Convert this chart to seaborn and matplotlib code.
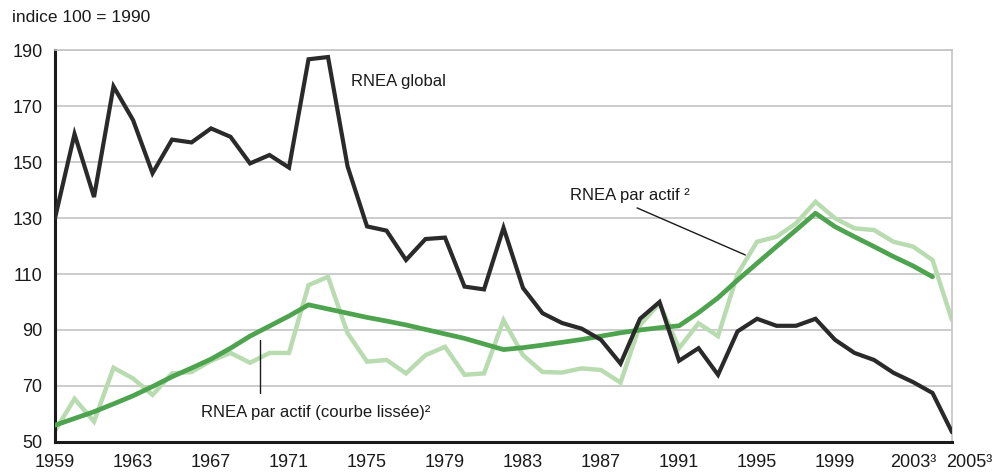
import numpy as np
import pandas as pd
import matplotlib
matplotlib.use("Agg")
import matplotlib.pyplot as plt
import matplotlib.transforms as mtransforms
import seaborn as sns

years = list(range(1959, 2006))

# RNEA global (index 100 = 1990)
rnea_global = [130, 160, 137.5, 177, 165, 146, 158, 157, 162, 159,
               149.5, 152.5, 148, 186.7, 187.5, 148.5, 127, 125.5, 115, 122.5,
               123, 105.5, 104.5, 126.5, 105, 96, 92.5, 90.5, 86.5, 78,
               94, 100, 79, 83.5, 74, 89.5, 94, 91.5, 91.5, 94,
               86.5, 81.8, 79.3, 74.7, 71.4, 67.5, 53.5]

# RNEA par actif (raw)
rnea_actif = [54, 65.4, 57.3, 76.5, 72.7, 66.8, 74.5, 75, 79, 81.8,
              78.3, 81.8, 81.8, 106, 109, 88.9, 78.7, 79.3, 74.5, 81,
              84, 74, 74.5, 93.5, 81, 75, 74.8, 76.3, 75.7, 71.2,
              91.8, 99.5, 83.5, 92.4, 87.8, 110, 121.5, 123.3, 128.1, 135.8,
              129.9, 126.3, 125.7, 121.5, 119.8, 115, 93.5]

# RNEA par actif, smoothed curve (ends in 2004)
smooth_years = list(range(1959, 2005))
rnea_lisse = [56, 58.4, 60.8, 63.6, 66.5, 69.8, 73.3, 76.4, 79.6, 83.5,
              87.8, 91.4, 95, 99, 97.5, 96, 94.5, 93.2, 91.8, 90.2,
              88.6, 87, 85, 83, 83.7, 84.6, 85.6, 86.6, 87.8, 89,
              90, 90.8, 91.5, 96.2, 101.5, 107.8, 113.8, 119.8, 125.7, 131.7,
              126.9, 123.3, 119.8, 116.2, 112.9, 109]

tick_years = [1959, 1963, 1967, 1971, 1975, 1979, 1983, 1987, 1991, 1995, 1999, 2003, 2005]
tick_labels = ["1959", "1963", "1967", "1971", "1975", "1979", "1983", "1987",
               "1991", "1995", "1999", "2003³", "2005³"]

df = pd.DataFrame({"annee": years, "global": rnea_global, "actif": rnea_actif})
df_lisse = pd.DataFrame({"annee": smooth_years, "lisse": rnea_lisse})

sns.set_style("white")
plt.rcParams["font.family"] = ["Liberation Sans", "DejaVu Sans"]

fig = plt.figure(figsize=(9.95, 4.72), dpi=100)
ax = fig.add_axes([0.0553, 0.0636, 0.9015, 0.8304])

light_green = "#b8dcb0"
dark_green = "#4ea34e"
black = "#2a2a2a"
ink = "#1a1a1a"

sns.lineplot(data=df, x="annee", y="actif", color=light_green, lw=3.2, ax=ax,
             solid_joinstyle="miter", zorder=2)
sns.lineplot(data=df_lisse, x="annee", y="lisse", color=dark_green, lw=3.4, ax=ax,
             zorder=3)
sns.lineplot(data=df, x="annee", y="global", color=black, lw=3.0, ax=ax,
             solid_joinstyle="miter", zorder=4)

ax.set_xlim(1959, 2005)
ax.set_ylim(50, 190)
ax.set_yticks(range(50, 191, 20))
ax.set_xticks(tick_years)
ax.set_xticklabels(tick_labels)
ax.set_xlabel("")
ax.set_ylabel("")

ax.yaxis.grid(True, color="#c4c4c4", lw=1.2)
ax.set_axisbelow(True)
ax.tick_params(axis="y", length=0, pad=9, labelsize=13, labelcolor=ink)
ax.tick_params(axis="x", direction="in", length=5, width=1.5, color=ink,
               pad=9, labelsize=13, labelcolor=ink)

# last label sits to the right of its tick, as in the source
last = ax.get_xticklabels()[-1]
last.set_horizontalalignment("left")
last.set_transform(last.get_transform() +
                   mtransforms.ScaledTranslation(-6 / 100, 0, fig.dpi_scale_trans))

for side in ["left", "bottom"]:
    ax.spines[side].set_color(ink)
    ax.spines[side].set_linewidth(2.2)
for side in ["top", "right"]:
    ax.spines[side].set_color("#c4c4c4")
    ax.spines[side].set_linewidth(1.2)

fig.text(0.012, 0.962, "indice 100 = 1990", fontsize=12.5, color=ink,
         ha="left", va="center")

ax.text(1974.2, 178.6, "RNEA global", fontsize=12, color=ink,
        ha="left", va="center")
ax.text(1985.4, 138.2, "RNEA par actif ²", fontsize=12, color=ink,
        ha="left", va="center")
ax.plot([1988.85, 1994.4], [133.6, 116.8], color=ink, lw=1.0, zorder=5)
ax.text(1966.5, 60.7, "RNEA par actif (courbe lissée)²", fontsize=12,
        color=ink, ha="left", va="center")
ax.plot([1969.5, 1969.5], [86.4, 67.5], color=ink, lw=1.0, zorder=5)

fig.savefig("out.png", dpi=100, facecolor="white")
